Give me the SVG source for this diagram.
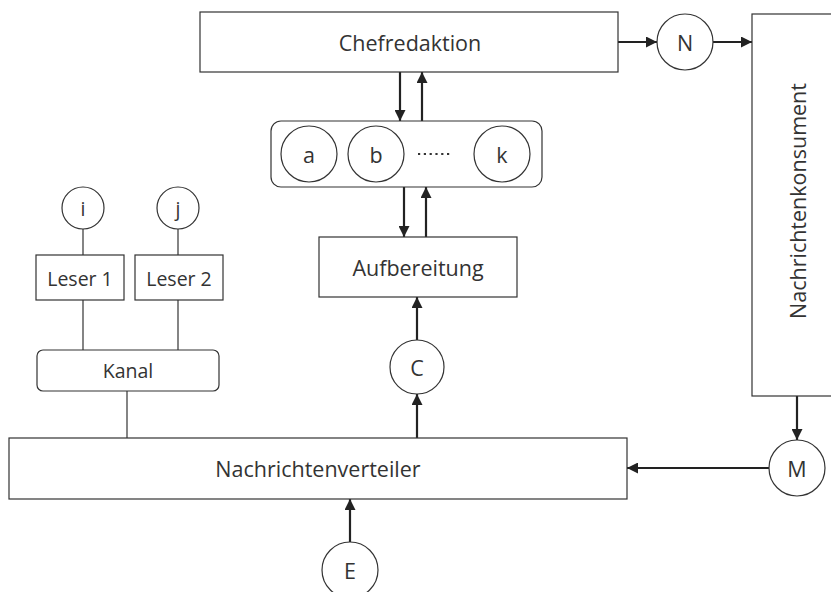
<svg xmlns="http://www.w3.org/2000/svg" width="831" height="592" viewBox="0 0 831 592">
  <defs>
    <marker id="arrow" viewBox="0 0 10 10" refX="10" refY="5" markerWidth="5" markerHeight="5" markerUnits="strokeWidth" orient="auto">
      <path d="M0,0 L10,5 L0,10 z" fill="#222"/>
    </marker>
    <style>
      .box { fill: #fff; stroke: #333; stroke-width: 1.2; }
      .circ { fill: #fff; stroke: #333; stroke-width: 1.2; }
      .lbl { font-family: "Open Sans", "Noto Sans", sans-serif; font-size: 21.5px; fill: #333; text-anchor: middle; dominant-baseline: central; }
      .sm { font-size: 19.5px; }
      .arr { stroke: #222; stroke-width: 2.2; fill: none; marker-end: url(#arrow); }
      .ln { stroke: #333; stroke-width: 1.2; fill: none; }
    </style>
  </defs>
  <rect width="831" height="592" fill="#fff"/>

  <!-- connectors -->
  <g id="connectors">
    <line class="arr" x1="618" y1="42" x2="657" y2="42"/>
    <line class="arr" x1="713" y1="42" x2="752" y2="42"/>
    <line class="arr" x1="400" y1="72" x2="400" y2="121"/>
    <line class="arr" x1="422" y1="121" x2="422" y2="72"/>
    <line class="arr" x1="404" y1="187" x2="404" y2="237"/>
    <line class="arr" x1="426" y1="237" x2="426" y2="187"/>
    <line class="arr" x1="417" y1="340" x2="417" y2="297"/>
    <line class="arr" x1="417" y1="438" x2="417" y2="394"/>
    <line class="arr" x1="797" y1="396" x2="797" y2="440"/>
    <line class="arr" x1="769" y1="468" x2="627" y2="468"/>
    <line class="arr" x1="350" y1="542" x2="350" y2="499"/>
    <line class="ln" x1="83" y1="229" x2="83" y2="255"/>
    <line class="ln" x1="178" y1="229" x2="178" y2="255"/>
    <line class="ln" x1="83" y1="300" x2="83" y2="350"/>
    <line class="ln" x1="178" y1="300" x2="178" y2="350"/>
    <line class="ln" x1="127" y1="391" x2="127" y2="438"/>
  </g>

  <g id="chefredaktion">
    <rect class="box" x="200" y="12" width="418" height="60"/>
    <text class="lbl" x="410" y="42">Chefredaktion</text>
  </g>

  <g id="node-N">
    <circle class="circ" cx="685" cy="42" r="28"/>
    <text class="lbl" x="685" y="42">N</text>
  </g>

  <g id="nachrichtenkonsument">
    <rect class="box" x="752" y="14" width="100" height="382"/>
    <text class="lbl" transform="translate(797 201) rotate(-90)">Nachrichtenkonsument</text>
  </g>

  <g id="redaktionen">
    <rect class="box" x="271" y="121" width="271" height="66" rx="10"/>
    <circle class="circ" cx="309" cy="154" r="28"/>
    <text class="lbl" x="309" y="154">a</text>
    <circle class="circ" cx="376" cy="154" r="28"/>
    <text class="lbl" x="376" y="154">b</text>
    <circle class="circ" cx="502" cy="154" r="28"/>
    <text class="lbl" x="502" y="154">k</text>
    <line x1="418" y1="154" x2="452" y2="154" stroke="#333" stroke-width="2.2" stroke-dasharray="2.2 3.6"/>
  </g>

  <g id="aufbereitung">
    <rect class="box" x="319" y="237" width="198" height="60"/>
    <text class="lbl" x="418" y="267">Aufbereitung</text>
  </g>

  <g id="node-C">
    <circle class="circ" cx="417" cy="367" r="27"/>
    <text class="lbl" x="417" y="367">C</text>
  </g>

  <g id="node-i">
    <circle class="circ" cx="83" cy="208" r="21"/>
    <text class="lbl sm" x="83" y="208">i</text>
  </g>

  <g id="node-j">
    <circle class="circ" cx="178" cy="208" r="21"/>
    <text class="lbl sm" x="178" y="208">j</text>
  </g>

  <g id="leser1">
    <rect class="box" x="36" y="255" width="88" height="45"/>
    <text class="lbl sm" x="80" y="278">Leser 1</text>
  </g>

  <g id="leser2">
    <rect class="box" x="135" y="255" width="88" height="45"/>
    <text class="lbl sm" x="179" y="278">Leser 2</text>
  </g>

  <g id="kanal">
    <rect class="box" x="37" y="350" width="182" height="41" rx="6"/>
    <text class="lbl sm" x="128" y="370">Kanal</text>
  </g>

  <g id="nachrichtenverteiler">
    <rect class="box" x="9" y="438" width="618" height="61"/>
    <text class="lbl" x="318" y="468">Nachrichtenverteiler</text>
  </g>

  <g id="node-M">
    <circle class="circ" cx="797" cy="468" r="28"/>
    <text class="lbl" x="797" y="468">M</text>
  </g>

  <g id="node-E">
    <circle class="circ" cx="350" cy="570" r="28"/>
    <text class="lbl" x="350" y="570">E</text>
  </g>
</svg>
